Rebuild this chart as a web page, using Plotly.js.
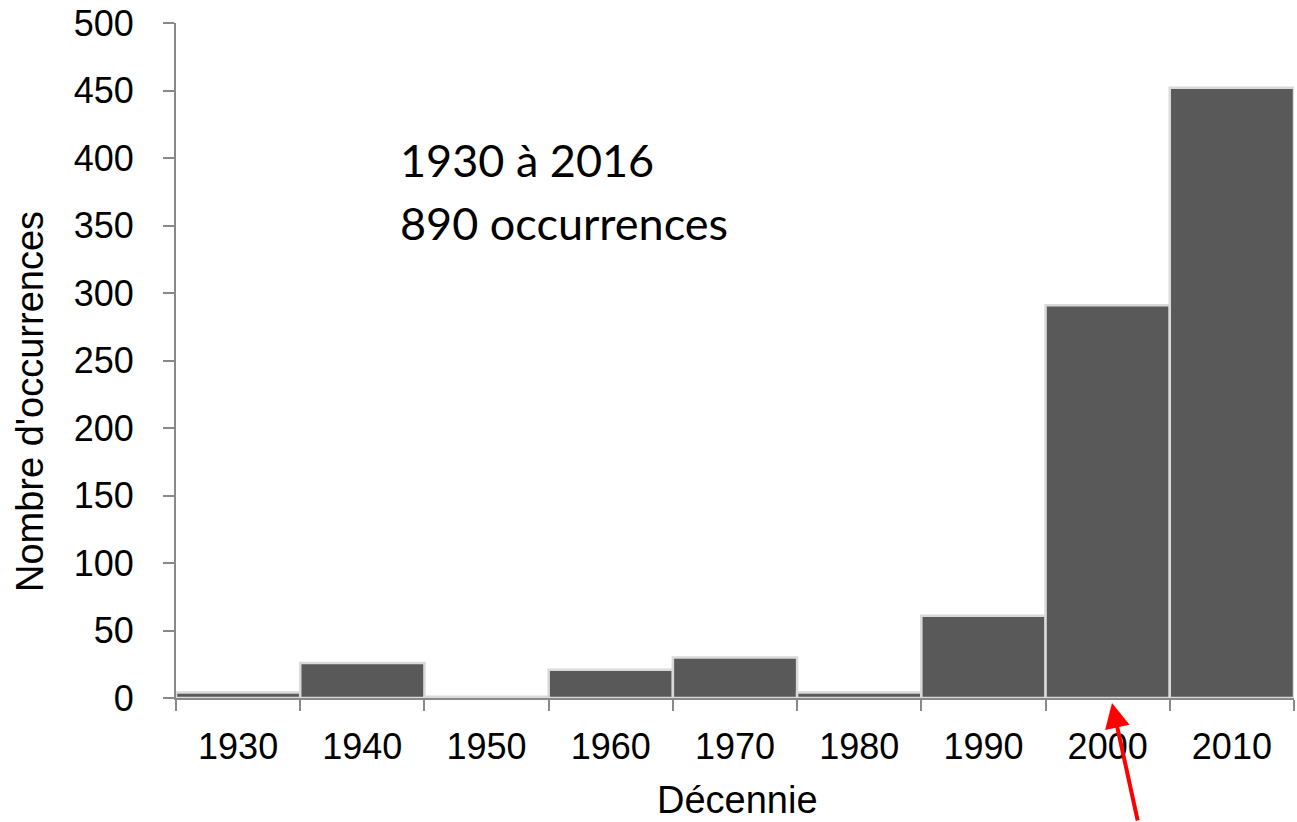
<!DOCTYPE html>
<html>
<head>
<meta charset="utf-8">
<script src="https://cdn.plot.ly/plotly-3.0.1.min.js"></script>
<style>html,body{margin:0;padding:0;background:#fff;}#chart{width:1297px;height:822px;}</style>
</head>
<body>
<div id="chart"></div>
<script>
const decades = ["1930", "1940", "1950", "1960", "1970", "1980", "1990", "2000", "2010"];
const counts = [4, 26, 1, 21, 30, 4, 61, 291, 452];
const yTicks = [0, 50, 100, 150, 200, 250, 300, 350, 400, 450, 500];
const noteLines = ["1930 à 2016", "890 occurrences"];
const xTitle = "Décennie";
const yTitle = "Nombre d'occurrences";

const trace = {
  type: "bar",
  x: decades,
  y: counts,
  marker: {color: "#595959", line: {color: "#d9d9d9", width: 2.5}},
  hoverinfo: "x+y"
};

const axisFont = {family: "Liberation Sans, Arial, sans-serif", size: 36, color: "#000"};
const titleFont = {family: "Liberation Sans, Arial, sans-serif", size: 38, color: "#000"};
const noteFont = {family: "Lato, Carlito, sans-serif", size: 45, color: "#000"};

// pixel helpers for paper coordinates (plot area: x 176..1294, y 23..698)
const px = v => (v - 176) / 1118;
const py = v => (698 - v) / 675;

const layout = {
  width: 1297,
  height: 822,
  margin: {l: 176, r: 3, t: 23, b: 124},
  paper_bgcolor: "#fff",
  plot_bgcolor: "#fff",
  showlegend: false,
  bargap: 0,
  xaxis: {
    type: "category",
    tickson: "boundaries",
    ticks: "outside",
    ticklen: 11,
    tickwidth: 2,
    tickcolor: "#898989",
    showline: true,
    linecolor: "#898989",
    linewidth: 2,
    showgrid: false,
    zeroline: false,
    tickfont: axisFont,
    ticklabelstandoff: 16
  },
  yaxis: {
    range: [0, 500],
    tickvals: yTicks,
    ticks: "outside",
    ticklen: 11,
    tickwidth: 2,
    tickcolor: "#898989",
    showline: true,
    linecolor: "#898989",
    linewidth: 2,
    showgrid: false,
    zeroline: false,
    tickfont: axisFont,
    ticklabelstandoff: 22
  },
  annotations: [
    {xref: "paper", yref: "paper", x: px(737), y: py(822), xanchor: "center", yanchor: "bottom",
     borderpad: 0, showarrow: false, text: xTitle, font: titleFont},
    {xref: "paper", yref: "paper", x: px(30), y: py(402), xanchor: "center", yanchor: "middle",
     showarrow: false, text: yTitle, textangle: -90, font: titleFont},
    {xref: "paper", yref: "paper", x: px(398), y: py(160),
     xanchor: "left", yanchor: "middle", showarrow: false, text: noteLines[0], font: noteFont},
    {xref: "paper", yref: "paper", x: px(398), y: py(223),
     xanchor: "left", yanchor: "middle", showarrow: false, text: noteLines[1], font: noteFont},
    {xref: "paper", yref: "paper", x: px(1112), y: py(703),
     text: "", showarrow: true, arrowhead: 2, arrowsize: 1.25, arrowwidth: 4,
     arrowcolor: "#ff0000", ax: 26, ay: 121, standoff: 0}
  ]
};

Plotly.newPlot("chart", [trace], layout, {displayModeBar: false, staticPlot: true});
</script>
</body>
</html>
